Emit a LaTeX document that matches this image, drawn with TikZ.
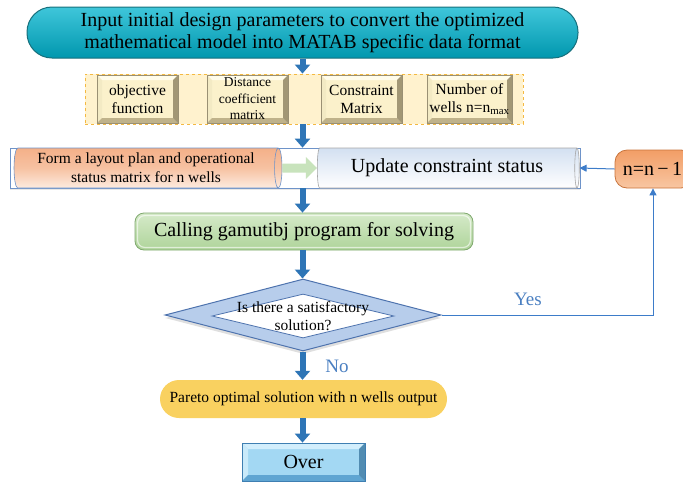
\documentclass[tikz,border=0pt]{standalone}
\usepackage{fontspec}
\setmainfont{Liberation Serif}
\usetikzlibrary{shapes.geometric,arrows.meta,calc,shadows}

\definecolor{tealtop}{HTML}{3FC6DA}
\definecolor{tealbot}{HTML}{0097AE}
\definecolor{tealedge}{HTML}{17707C}
\definecolor{flowblue}{HTML}{2E75B6}
\definecolor{linkblue}{HTML}{3D7CC9}
\definecolor{lblblue}{HTML}{4A7FC1}
\definecolor{panelfill}{HTML}{FFF2CE}
\definecolor{paneledge}{HTML}{F4B942}
\definecolor{btnface}{HTML}{FBF1CB}
\definecolor{btnlight}{HTML}{FFFCEB}
\definecolor{btnside}{HTML}{F3EAC4}
\definecolor{btndark}{HTML}{BFB28A}
\definecolor{btnedge}{HTML}{9A9074}
\definecolor{peachtop}{HTML}{F4B088}
\definecolor{peachbot}{HTML}{FDEBDF}
\definecolor{icetop}{HTML}{D3E0F1}
\definecolor{icebot}{HTML}{FFFFFF}
\definecolor{rowedge}{HTML}{6E93C9}
\definecolor{softgreen}{HTML}{C8E3BC}
\definecolor{greentop}{HTML}{D5EAC9}
\definecolor{greenbot}{HTML}{AFD49A}
\definecolor{greenedge}{HTML}{7FA86E}
\definecolor{orgtop}{HTML}{F29E66}
\definecolor{orgbot}{HTML}{F8C6A2}
\definecolor{orgedge}{HTML}{C8743C}
\definecolor{diafill}{HTML}{B7CDEB}
\definecolor{diaedge}{HTML}{4E73AE}
\definecolor{gold}{HTML}{F9D160}
\definecolor{skyface}{HTML}{A3D8F3}
\definecolor{skylight}{HTML}{D2EEFC}
\definecolor{skydark}{HTML}{5FA5D2}
\definecolor{skyedge}{HTML}{3F7FB2}

\newcommand{\setfs}[2]{\fontsize{#1}{#2}\selectfont}

\tikzset{
  bevel/.style n args={4}{path picture={
    \coordinate (pnw) at (path picture bounding box.north west);
    \coordinate (pne) at (path picture bounding box.north east);
    \coordinate (psw) at (path picture bounding box.south west);
    \coordinate (pse) at (path picture bounding box.south east);
    \fill[#1] (pnw) -- (pne) -- ([shift={(-#4,-#4)}]pne) -- ([shift={(#4,-#4)}]pnw) -- cycle;
    \fill[#2] (pnw) -- ([shift={(#4,-#4)}]pnw) -- ([shift={(#4,#4)}]psw) -- (psw) -- cycle;
    \fill[#3] (psw) -- ([shift={(#4,#4)}]psw) -- ([shift={(-#4,#4)}]pse) -- (pse) -- cycle;
    \fill[#3!85!black] (pse) -- ([shift={(-#4,#4)}]pse) -- ([shift={(-#4,-#4)}]pne) -- (pne) -- cycle;
  }},
  topbox/.style={draw=tealedge, line width=1pt, top color=tealtop, bottom color=tealbot,
    rounded corners=25pt, minimum width=551pt, minimum height=51pt, inner sep=0pt,
    align=center, font=\setfs{20pt}{22.5pt}},
  panel/.style={draw=paneledge, dashed, line width=0.9pt, fill=panelfill,
    minimum width=438pt, minimum height=50pt, inner sep=0pt},
  btn/.style={draw=btnedge, line width=0.6pt, fill=btnface, inner sep=0pt, align=center,
    minimum height=48pt, font=\setfs{15.5pt}{18pt},
    bevel={btnlight}{btnside}{btndark}{5pt}},
  rowbox/.style={draw=rowedge, line width=0.7pt, fill=white,
    minimum width=570pt, minimum height=40pt, inner sep=0pt,
    drop shadow={opacity=0.18, shadow xshift=0pt, shadow yshift=-2pt}},
  drum/.style={shape=cylinder, shape aspect=0.25, draw=#1, line width=0.6pt,
    minimum width=40pt, inner sep=0pt, align=center},
  blk/.style={draw=flowblue, line width=6pt, -{Triangle[width=15pt,length=9pt]}},
  link/.style={draw=linkblue, line width=1pt, -{Triangle[width=7pt,length=7pt]}},
  stepnote/.style={text=lblblue, font=\setfs{19pt}{22pt}, inner sep=0pt},
}

\begin{document}
\begin{tikzpicture}[x=1pt,y=-1pt]
\useasboundingbox (0,0) rectangle (683,483);
\clip (0,0) rectangle (683,483);

% model conversion
\node[topbox] (start) at (302.5,32.5)
  {Input initial design parameters to convert the optimized\\
   mathematical model into MATAB specific data format};

% input data panel
\node[panel] (data) at (304,99) {};
\node[btn, minimum width=81pt] (obj) at (137.5,99) {objective\\function};
\node[btn, minimum width=81pt, font=\setfs{13.5pt}{16.5pt}] (dist) at (247.5,99)
  {Distance\\coefficient\\matrix};
\node[btn, minimum width=81pt] (cons) at (361.5,99) {Constraint\\Matrix};
\node[btn, minimum width=85pt] (num) at (469.5,99) {Number of\\wells n=n\textsubscript{max}};

% layout and constraint row
\node[rowbox] (row) at (295,168) {};
\node[drum=rowedge, minimum height=268pt, top color=peachtop, bottom color=peachbot,
      middle color=peachtop!70!peachbot, font=\setfs{15.5pt}{19pt}] (layout) at (146,168)
  {Form a layout plan and operational\\status matrix for n wells};
\node[drum=gray!70, minimum height=262pt, top color=icetop, bottom color=icebot,
      font=\setfs{20pt}{22pt}] (update) at (447,168) {Update constraint status};
\draw[draw=softgreen, line width=9pt, -{Triangle[width=21pt,length=11pt]}]
  (layout.east) -- (update.west);

% well count decrement
\node[draw=orgedge, line width=0.8pt, top color=orgtop, bottom color=orgbot,
      rounded corners=12pt, minimum width=78pt, minimum height=38pt, inner sep=0pt,
      font=\setfs{20pt}{22pt}] (dec) at (654,169) {n=n\thinspace−\thinspace1\hspace*{3pt}};

% solver call
\node[draw=greenedge, line width=0.8pt, top color=greentop, bottom color=greenbot,
      rounded corners=9pt, minimum width=338pt, minimum height=37pt, inner sep=0pt,
      font=\setfs{20pt}{22pt}] (solve) at (304,231.5) {Calling gamutibj program for solving};
\draw[white, opacity=0.6, line width=1.2pt, rounded corners=7pt]
  ([shift={(3pt,-3pt)}]solve.north west) rectangle ([shift={(-3pt,3pt)}]solve.south east);

% satisfaction test
\node[diamond, draw=diaedge, line width=1pt, fill=diafill, minimum width=276pt,
      minimum height=72pt, inner sep=0pt,
      drop shadow={opacity=0.25, shadow xshift=0pt, shadow yshift=-3pt}] (test) at (303,315) {};
\node[diamond, draw=diaedge, line width=0.8pt, fill=white, minimum width=182pt,
      minimum height=44pt, inner sep=0pt] (testin) at (303,316) {};
\node[align=center, inner sep=0pt, font=\setfs{15.5pt}{18pt}] (testtxt) at (303,316)
  {Is there a satisfactory\\solution?};

% output and end
\node[fill=gold, rounded corners=19pt, minimum width=287pt, minimum height=38pt,
      inner sep=0pt, font=\setfs{15.5pt}{18pt}] (pareto) at (303.5,399)
  {Pareto optimal solution with n wells output};
\node[draw=skyedge, line width=0.8pt, fill=skyface, minimum width=123pt, minimum height=38pt,
      inner sep=0pt, font=\setfs{20pt}{22pt}, bevel={skylight}{skylight!80!skyface}{skydark}{6pt},
      drop shadow={opacity=0.2, shadow xshift=0pt, shadow yshift=0pt, color=skyedge}] (over)
  at (303.5,462) {Over};

% main flow
\draw[blk] (start.south) -- (start.south |- data.north);
\draw[blk] (start.south |- data.south) -- (start.south |- row.north);
\draw[blk] (start.south |- row.south) -- (start.south |- solve.north);
\draw[blk] (start.south |- solve.south) -- (start.south |- test.north);
\draw[blk] (start.south |- test.south) -- (start.south |- pareto.north);
\draw[blk] (start.south |- pareto.south) -- (start.south |- over.north);

% feedback loop
\draw[link] (test.east) -| ([xshift=-1pt]dec.south);
\draw[link] (dec.west) -- (update.east);

\node[stepnote] (yes) at (528,299) {Yes};
\node[stepnote] (no) at (337,366) {No};
\end{tikzpicture}
\end{document}
